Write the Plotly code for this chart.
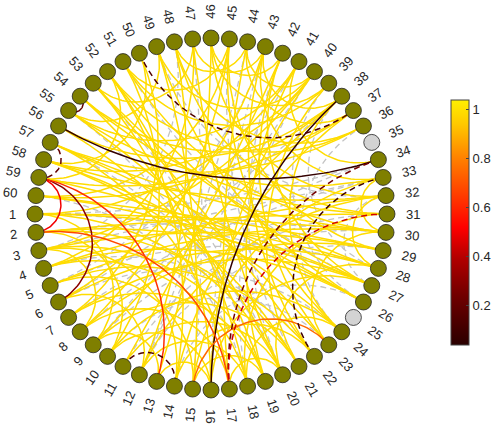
import numpy as np
import plotly.graph_objects as go
from plotly.colors import sample_colorscale

# ---------------- data ----------------
n_nodes = 60
node_labels = [str(i) for i in range(1, n_nodes + 1)]
inactive_nodes = [25, 35]

# strong (yellow) connections
yellow_src = [1, 1, 1, 1, 1, 2, 2, 2, 2, 3, 3, 3, 3, 3, 4, 4, 4, 4,
              5, 5, 5, 6, 6, 6, 7, 7, 7, 8, 8, 8, 9, 9, 9, 10, 10, 10,
              11, 11, 12, 12, 12, 13, 13, 14, 14, 14, 15, 15, 15, 16, 16, 16,
              17, 17, 17, 18, 18, 18, 19, 19, 20, 20, 20, 21, 21, 22, 22,
              23, 23, 23, 24, 24, 24, 26, 26, 26, 27, 27, 27, 28, 28, 29, 29,
              30, 30, 30, 31, 31, 32, 32, 33, 33, 34, 36, 36, 36, 37, 37, 37,
              38, 38, 38, 39, 39, 40, 40, 40, 41, 42, 43, 44, 45, 45, 47, 49, 50, 52]
yellow_dst = [30, 28, 9, 20, 41, 31, 27, 21, 10, 29, 19, 8, 40, 14, 26, 18, 32, 47,
              30, 22, 15, 28, 12, 43, 27, 19, 50, 29, 17, 45, 21, 13, 38, 24, 51, 16,
              20, 42, 48, 32, 18, 16, 46, 52, 22, 37, 49, 19, 33, 53, 27, 40,
              20, 44, 57, 52, 31, 24, 54, 41, 56, 28, 47, 58, 39, 53, 43,
              55, 30, 42, 58, 45, 38, 57, 60, 49, 59, 42, 52, 53, 32, 60, 45,
              33, 57, 51, 54, 48, 58, 46, 55, 43, 41, 52, 57, 48, 59, 44, 54,
              43, 56, 60, 46, 51, 58, 49, 44, 55, 46, 47, 48, 51, 60, 53, 55, 58, 59]
yellow_val = 0.99

# weak (grey dashed) connections
grey_src = [47, 45, 44, 42, 41, 39, 38, 36, 34, 33, 32, 30, 29, 28, 27, 26, 24, 23,
            22, 20, 19, 18, 12, 11, 9, 7, 6, 5, 3, 1, 53, 51, 49, 43, 40]
grey_dst = [15, 21, 12, 20, 9, 26, 28, 24, 8, 3, 27, 2, 12, 5, 1, 14, 6, 10,
            4, 57, 55, 60, 40, 31, 30, 33, 38, 43, 48, 34, 20, 27, 32, 16, 18]

# coloured connections
col_src = [56, 38, 54, 50, 57, 59, 59, 59, 2, 15, 11, 34, 31, 33]
col_dst = [34, 16, 55, 37, 59, 6, 13, 2, 17, 23, 14, 17, 17, 22]
col_val = [0.07, 0.06, 0.2, 0.15, 0.2, 0.3, 0.62, 0.5, 0.68, 0.75, 0.15, 0.25, 0.45, 0.1]
col_dashed = [False, False, False, True, True, False, False, False, False, False,
              True, True, True, True]

cbar_ticks = [0.2, 0.4, 0.6, 0.8, 1.0]
cbar_ticktext = ["0.2", "0.4", "0.6", "0.8", "1"]
cmin, cmax = 0.04, 1.04

colorscale = [[0.0, "#2a0000"], [0.2, "#700000"], [0.35, "#b00000"], [0.48, "#ff0000"],
              [0.62, "#ff4000"], [0.76, "#ff8000"], [0.9, "#ffc800"], [1.0, "#fff000"]]

# ---------------- geometry ----------------
theta = np.deg2rad(180 + 6 * np.arange(n_nodes))
nx, ny = np.cos(theta), np.sin(theta)


def arc(i, j, m=60):
    a, b = theta[i - 1], theta[j - 1]
    u = np.array([np.cos(a), np.sin(a)])
    v = np.array([np.cos(b), np.sin(b)])
    d = np.dot(u, v)
    if abs(1 + d) < 1e-3:
        t = np.linspace(0, 1, m)
        return u[0] + t * (v[0] - u[0]), u[1] + t * (v[1] - u[1])
    c = (u + v) / (1 + d)
    r = np.sqrt(c @ c - 1)
    p1 = np.arctan2(u[1] - c[1], u[0] - c[0])
    p2 = np.arctan2(v[1] - c[1], v[0] - c[0])
    dp = (p2 - p1 + np.pi) % (2 * np.pi) - np.pi
    t = np.linspace(0, 1, m)
    ph = p1 + t * dp
    return c[0] + r * np.cos(ph), c[1] + r * np.sin(ph)


def color_of(val):
    return sample_colorscale(colorscale, [(val - cmin) / (cmax - cmin)])[0]


fig = go.Figure()

# grey dashed
gx, gy = [], []
for s, d in zip(grey_src, grey_dst):
    x, y = arc(s, d)
    gx += list(x) + [None]
    gy += list(y) + [None]
fig.add_trace(go.Scatter(x=gx, y=gy, mode="lines", hoverinfo="skip",
                         line=dict(color="#c4c4c4", width=1.3, dash="6px,4px"),
                         showlegend=False))

# yellow
yx, yy = [], []
for s, d in zip(yellow_src, yellow_dst):
    x, y = arc(s, d)
    yx += list(x) + [None]
    yy += list(y) + [None]
fig.add_trace(go.Scatter(x=yx, y=yy, mode="lines", hoverinfo="skip",
                         line=dict(color=color_of(yellow_val), width=1.5),
                         showlegend=False))

# coloured
for s, d, v, dsh in zip(col_src, col_dst, col_val, col_dashed):
    x, y = arc(s, d)
    fig.add_trace(go.Scatter(x=x, y=y, mode="lines", hoverinfo="skip",
                             line=dict(color=color_of(v), width=1.5,
                                       dash="6px,4px" if dsh else "solid"),
                             showlegend=False))

# nodes
ncol = ["#d3d3d3" if (k + 1) in inactive_nodes else "#7f7f00" for k in range(n_nodes)]
fig.add_trace(go.Scatter(x=nx, y=ny, mode="markers", hoverinfo="text", text=node_labels,
                         marker=dict(size=16, color=ncol, line=dict(color="#222222", width=0.8)),
                         showlegend=False))

# colorbar carrier
fig.add_trace(go.Scatter(x=[0], y=[0], mode="markers", hoverinfo="skip", showlegend=False,
                         marker=dict(size=0.1, opacity=0, color=[0.5], cmin=cmin, cmax=cmax,
                                     colorscale=colorscale, showscale=True,
                                     colorbar=dict(x=451 / 504, xanchor="left", xpad=0,
                                                   y=1 - 222.5 / 424, yanchor="middle", ypad=0,
                                                   len=245 / 424, lenmode="fraction",
                                                   thickness=18, outlinewidth=1,
                                                   outlinecolor="#444444",
                                                   tickvals=cbar_ticks, ticktext=cbar_ticktext,
                                                   ticks="inside", ticklen=3, tickcolor="#444444",
                                                   tickfont=dict(family="Liberation Sans", size=13,
                                                                 color="#262626")))))

# labels
PX = 176.0
for k in range(n_nodes):
    tdeg = 180 + 6 * k
    t = ((tdeg + 180) % 360) - 180  # in (-180, 180]
    if -90 <= t <= 90:
        rot = t
    else:
        rot = t - 180 if t > 0 else t + 180
    w = len(node_labels[k]) * 7.23
    rad = (195 + w / 2) / PX
    fig.add_annotation(x=rad * np.cos(np.deg2rad(tdeg)), y=rad * np.sin(np.deg2rad(tdeg)),
                       text=node_labels[k], showarrow=False, textangle=-rot,
                       xanchor="center", yanchor="middle",
                       font=dict(family="Liberation Sans", size=13, color="#262626"))

cx, cy = 211, 214
fig.update_layout(width=504, height=424, margin=dict(l=0, r=0, t=0, b=0),
                  paper_bgcolor="white", plot_bgcolor="white",
                  xaxis=dict(range=[-cx / PX, (504 - cx) / PX], visible=False, domain=[0, 1],
                             fixedrange=True),
                  yaxis=dict(range=[-(424 - cy) / PX, cy / PX], visible=False, domain=[0, 1],
                             fixedrange=True))
fig.write_html("out.html")
